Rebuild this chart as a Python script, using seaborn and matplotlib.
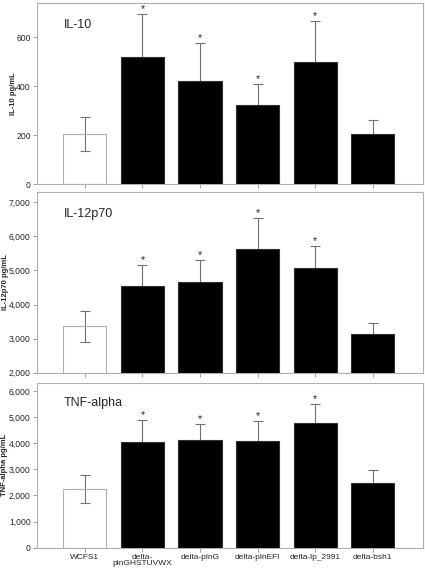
import numpy as np
import pandas as pd
import matplotlib
matplotlib.use("Agg")
import matplotlib.pyplot as plt
import seaborn as sns
from matplotlib.ticker import FuncFormatter

# souches et valeurs
strains = ["WCFS1", "delta-\nplnGHSTUVWX", "delta-plnG", "delta-plnEFI",
           "delta-lp_2991", "delta-bsh1"]

il10 = [205, 518, 423, 322, 501, 205]
il10_err = [70, 179, 154, 85, 167, 55]

il12 = [3363, 4539, 4657, 5627, 5059, 3127]
il12_err = [450, 610, 640, 910, 650, 345]

tnf = [2235, 4036, 4125, 4074, 4789, 2490]
tnf_err = [535, 840, 600, 770, 690, 500]

signif = [False, True, True, True, True, False]

panels = [
    ("IL-10", "IL-10 pg/mL", il10, il10_err, (0, 740), [0, 200, 400, 600]),
    ("IL-12p70", "IL-12p70 pg/mL", il12, il12_err, (2000, 7300),
     [2000, 3000, 4000, 5000, 6000, 7000]),
    ("TNF-alpha", "TNF-alpha pg/mL", tnf, tnf_err, (0, 6300),
     [0, 1000, 2000, 3000, 4000, 5000, 6000]),
]

sns.set_style("white")
plt.rcParams['font.family'] = ['Liberation Sans', 'DejaVu Sans']

fig = plt.figure(figsize=(4.25, 5.69), dpi=100)
boxes = [
    [0.087, 0.6766, 0.908, 0.318],
    [0.087, 0.345, 0.908, 0.3176],
    [0.087, 0.0374, 0.908, 0.2895],
]
# position x des titres d'axe y (ils chevauchent les graduations comme l'original)
label_x = [-0.052, -0.072, -0.075]

palette = ["white"] + ["black"] * 5
spine_col = "#b0b0b0"
err_col = "#707070"

for i, (title, ylab, vals, errs, ylim, yticks) in enumerate(panels):
    ax = fig.add_axes(boxes[i])
    df = pd.DataFrame({"strain": strains, "value": vals})
    sns.barplot(data=df, x="strain", y="value", hue="strain", palette=palette,
                legend=False, width=0.75, ax=ax, zorder=3)
    for j, p in enumerate(ax.patches):
        p.set_edgecolor(spine_col if j == 0 else "#303030")
        p.set_linewidth(0.8)
        if j == 0:
            p.set_facecolor("none")
    xs = np.arange(len(strains))
    ax.errorbar(xs, vals, yerr=errs, fmt="none", ecolor=err_col,
                elinewidth=0.8, capsize=3.6, capthick=0.8, zorder=2)
    for x, v, e, s in zip(xs, vals, errs, signif):
        if s:
            ax.text(x, v + e, "*", ha="center", va="bottom", fontsize=7.5,
                    color="#202020")
    ax.set_xlim(-0.83, 5.87)
    ax.set_ylim(*ylim)
    ax.set_yticks(yticks)
    ax.yaxis.set_major_formatter(FuncFormatter(lambda v, _: f"{v:,.0f}"))
    ax.set_ylabel(ylab, fontsize=5.5, fontweight="bold")
    ax.yaxis.set_label_coords(label_x[i], 0.5)
    ax.set_xlabel("")
    ax.text(0.07, 0.88, title, transform=ax.transAxes, fontsize=9,
            va="center", ha="left")
    for sp in ax.spines.values():
        sp.set_color(spine_col)
        sp.set_linewidth(0.8)
    ax.tick_params(axis="both", which="major", direction="out", length=3,
                   width=0.6, color="#909090", labelsize=6.2, pad=1.5,
                   bottom=True, left=True)
    if i < 2:
        ax.set_xticklabels([])
    else:
        ax.set_xticks(xs)
        ax.set_xticklabels(strains, fontsize=6, linespacing=0.9)

fig.savefig("out.png", dpi=100)
